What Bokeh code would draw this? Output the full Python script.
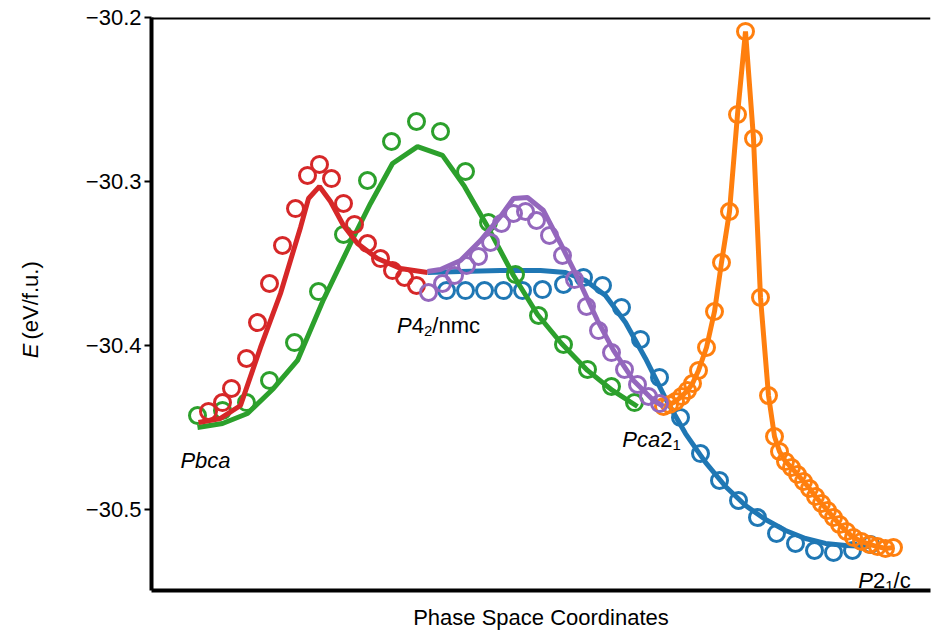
import numpy as np
from bokeh.plotting import figure
from bokeh.layouts import row
from bokeh.models import Range1d, FixedTicker, Span, Label, CustomJSTickFormatter, LinearAxis
from bokeh.core.properties import value
from bokeh.embed import file_html
from bokeh.resources import INLINE

# ---------------- data (x: phase space coordinate, arbitrary units; y: E in eV/f.u.) -------------
red_pts_x = [57, 71, 80, 95, 106, 118, 131, 144, 156, 168, 180, 192, 203, 216, 229, 241, 253, 265]
red_pts_y = [-30.4402, -30.4348, -30.4262, -30.4079, -30.3860, -30.3622, -30.3390, -30.3165,
             -30.2963, -30.2896, -30.2982, -30.3134, -30.3262, -30.3378, -30.3470, -30.3543,
             -30.3585, -30.3634]
red_fit_x = [47, 69, 89, 109, 129, 149, 157, 168, 179, 192, 206, 226, 249, 276]
red_fit_y = [-30.4470, -30.4445, -30.4366, -30.4012, -30.3683, -30.3280, -30.3104, -30.3030,
             -30.3122, -30.3268, -30.3378, -30.3470, -30.3530, -30.3555]

green_pts_x = [46, 71, 95, 118, 143, 167, 192, 216, 240, 265, 289, 314, 337, 364, 387, 412, 436, 460, 483]
green_pts_y = [-30.4427, -30.4396, -30.4348, -30.4213, -30.3982, -30.3671, -30.3323, -30.2994,
               -30.2756, -30.2634, -30.2695, -30.2939, -30.3250, -30.3567, -30.3817, -30.3994,
               -30.4146, -30.4250, -30.4348]
green_fit_x = [46, 71, 96, 122, 146, 172, 199, 219, 241, 266, 291, 313, 336, 362, 386, 410, 436, 461, 486]
green_fit_y = [-30.4500, -30.4476, -30.4415, -30.4262, -30.4091, -30.3720, -30.3378, -30.3134,
               -30.2890, -30.2787, -30.2841, -30.3030, -30.3274, -30.3573, -30.3811, -30.3988,
               -30.4152, -30.4274, -30.4372]

blue_pts_x = [295, 314, 333, 352, 371, 391, 412, 432, 451, 470, 489, 508, 529, 549, 568, 587,
              606, 625, 644, 663, 682, 701, 719]
blue_pts_y = [-30.3665, -30.3665, -30.3665, -30.3665, -30.3665, -30.3659, -30.3628, -30.3585,
              -30.3634, -30.3768, -30.3963, -30.4195, -30.4439, -30.4659, -30.4823, -30.4945,
              -30.5049, -30.5146, -30.5207, -30.5250, -30.5262, -30.5250, -30.5213]
blue_fit_x = [276, 309, 349, 389, 414, 434, 454, 474, 494, 514, 534, 554, 574, 594, 614, 634,
              654, 674, 694, 719]
blue_fit_y = [-30.3555, -30.3549, -30.3543, -30.3543, -30.3555, -30.3604, -30.3695, -30.3860,
              -30.4079, -30.4323, -30.4537, -30.4713, -30.4860, -30.4976, -30.5061, -30.5128,
              -30.5177, -30.5207, -30.5220, -30.5226]

purple_pts_x = [277, 291, 303, 315, 327, 339, 350, 362, 374, 385, 398, 411, 423, 435, 447, 460,
                473, 486, 497, 508]
purple_pts_y = [-30.3677, -30.3622, -30.3573, -30.3512, -30.3457, -30.3372, -30.3256, -30.3195,
                -30.3183, -30.3238, -30.3329, -30.3451, -30.3598, -30.3762, -30.3909, -30.4043,
                -30.4146, -30.4238, -30.4311, -30.4354]
purple_fit_x = [276, 289, 309, 329, 349, 362, 376, 392, 409, 426, 446, 462, 482, 502, 512]
purple_fit_y = [-30.3549, -30.3537, -30.3482, -30.3360, -30.3213, -30.3104, -30.3098, -30.3177,
                -30.3378, -30.3585, -30.3848, -30.4030, -30.4213, -30.4335, -30.4372]

orange_x = [512, 518, 524, 530, 536, 541, 547, 555, 563, 570, 578, 586, 594, 602, 609, 617, 623,
            628, 634, 640, 646, 652, 658, 664, 670, 676, 682, 688, 695, 702, 710, 718, 726, 734, 742]
orange_y = [-30.4372, -30.4360, -30.4341, -30.4311, -30.4274, -30.4232, -30.4152, -30.4012,
            -30.3793, -30.3494, -30.3183, -30.2591, -30.2085, -30.2738, -30.3707, -30.4305,
            -30.4555, -30.4646, -30.4707, -30.4744, -30.4787, -30.4829, -30.4872, -30.4921,
            -30.4963, -30.5006, -30.5049, -30.5091, -30.5134, -30.5171, -30.5195, -30.5213,
            -30.5226, -30.5238, -30.5232]

y_ticks = [-30.5, -30.4, -30.3, -30.2]
y_min, y_max = -30.5494, -30.2
x_min, x_max = 0, 779
x_title = "Phase Space Coordinates"
y_title_sym, y_title_unit = "E", "(eV/f.u.)"

C_BLUE, C_ORANGE, C_GREEN, C_RED, C_PURPLE = "#1f77b4", "#ff7f0e", "#2ca02c", "#d62728", "#9467bd"
FONT = "Liberation Sans"
FS = 22
FS_SUB = 15

PAGE_W, PAGE_H = 932, 631
SIDE_W = 44                      # narrow panel holding the rotated y title
FRAME_L, FRAME_T, FRAME_W, FRAME_H = 151, 17, 779, 573
YTITLE_BOTTOM_PY = 376           # page y where the rotated y title starts (bottom end)

# ---------------- main figure -------------
p = figure(frame_width=FRAME_W, frame_height=FRAME_H, output_backend="svg", toolbar_location=None,
           x_range=Range1d(x_min, x_max), y_range=Range1d(y_min, y_max),
           x_axis_type=None, min_border_left=FRAME_L - SIDE_W, min_border_right=2,
           min_border_top=FRAME_T, min_border_bottom=PAGE_H - FRAME_T - FRAME_H)
p.outline_line_color = None
p.grid.visible = False
p.background_fill_color = "white"
p.border_fill_color = "white"

yax = p.yaxis[0]
yax.ticker = FixedTicker(ticks=y_ticks)
yax.formatter = CustomJSTickFormatter(code="return '\u2212' + Math.abs(tick).toFixed(1);")
yax.axis_line_width = 4
yax.axis_line_color = "black"
yax.major_tick_out = 7
yax.major_tick_in = 0
yax.major_tick_line_width = 2
yax.minor_tick_line_color = None
yax.major_label_text_font = FONT
yax.major_label_text_font_size = f"{FS}px"
yax.major_label_text_color = "black"
yax.major_label_standoff = 3

xax = LinearAxis(ticker=FixedTicker(ticks=[]), axis_label=x_title)
xax.axis_line_width = 4
xax.axis_line_color = "black"
xax.major_tick_out = 0
xax.major_tick_in = 0
xax.minor_tick_line_color = None
xax.major_label_standoff = 0
xax.axis_label_standoff = 14
xax.axis_label_text_font = FONT
xax.axis_label_text_font_size = f"{FS}px"
xax.axis_label_text_font_style = "normal"
xax.axis_label_text_color = "black"
p.add_layout(xax, "below")

p.add_layout(Span(location=y_max, dimension="width", line_color="black", line_width=4))

LW = 5
MS = 16
MLW = 3

def series(fx, fy, px, py, color):
    p.line(fx, fy, line_color=color, line_width=LW)
    p.scatter(px, py, marker="circle", size=MS, fill_color=None, line_color=color, line_width=MLW)

series(blue_fit_x, blue_fit_y, blue_pts_x, blue_pts_y, C_BLUE)
series(orange_x, orange_y, orange_x, orange_y, C_ORANGE)
series(green_fit_x, green_fit_y, green_pts_x, green_pts_y, C_GREEN)
series(red_fit_x, red_fit_y, red_pts_x, red_pts_y, C_RED)
series(purple_fit_x, purple_fit_y, purple_pts_x, purple_pts_y, C_PURPLE)

# ---------------- phase labels inside the frame (page pixels -> data units) -------------
def dx(px):
    return x_min + (px - FRAME_L) * (x_max - x_min) / FRAME_W

def dy(py):
    return y_max - (py - FRAME_T) * (y_max - y_min) / FRAME_H

W = {"P": 667, "b": 556, "c": 500, "a": 556, "4": 556, "2": 556, "1": 556, "/": 278,
     "n": 556, "m": 833, "E": 667, " ": 278, "(": 333, ")": 333, "e": 556, "V": 667,
     "f": 278, ".": 278, "u": 556}

def tw(s, fs):
    return sum(W.get(ch, 556) for ch in s) * fs / 1000.0

def rich(segments, center_px, base_py):
    total = sum(tw(t, FS_SUB if sub else FS) for t, it, sub in segments)
    x = center_px - total / 2
    for t, it, sub in segments:
        fs = FS_SUB if sub else FS
        p.add_layout(Label(x=dx(x), y=dy(base_py + (5 if sub else 0)), text=t, text_font=FONT,
                           text_font_size=f"{fs}px", text_color="black",
                           text_font_style="italic" if it else "normal",
                           text_align="left", text_baseline="alphabetic"))
        x += tw(t, fs)

rich([("Pbca", True, False)], 205, 460)
rich([("P", True, False), ("4", False, False), ("2", False, True), ("/nmc", False, False)], 438, 325)
rich([("Pca", True, False), ("2", False, False), ("1", False, True)], 651, 439)
rich([("P", True, False), ("2", False, False), ("1", False, True), ("/c", False, False)], 884, 580)

# ---------------- side panel with rotated y title (italic E + units) -------------
side = figure(width=SIDE_W, height=PAGE_H, output_backend="svg", toolbar_location=None,
              x_range=Range1d(0, SIDE_W), y_range=Range1d(0, PAGE_H),
              x_axis_type=None, y_axis_type=None, min_border=0)
side.outline_line_color = None
side.grid.visible = False
side.background_fill_color = "white"
side.border_fill_color = "white"

side.text(x=[30], y=[PAGE_H - YTITLE_BOTTOM_PY], text=[y_title_sym], angle=np.pi / 2,
          text_font=value(FONT), text_font_size=f"{FS}px", text_font_style="italic",
          text_color="black", text_align="left", text_baseline="middle")
side.text(x=[30], y=[PAGE_H - YTITLE_BOTTOM_PY + tw(y_title_sym + " ", FS)], text=[y_title_unit],
          angle=np.pi / 2, text_font=value(FONT), text_font_size=f"{FS}px",
          text_color="black", text_align="left", text_baseline="middle")

layout = row(side, p, spacing=0)
open("out.html", "w").write(file_html(layout, INLINE))
